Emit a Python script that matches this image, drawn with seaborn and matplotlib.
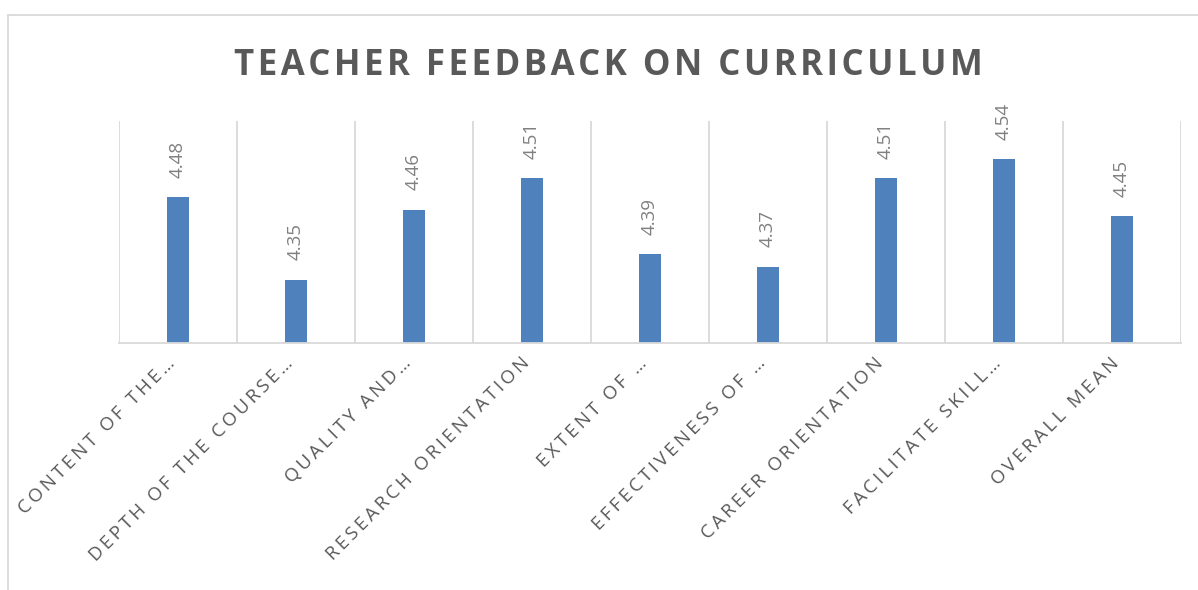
import matplotlib
matplotlib.use("Agg")
import matplotlib.pyplot as plt
import matplotlib.transforms as mtransforms
from matplotlib.lines import Line2D
import seaborn as sns
import pandas as pd

# data
categories = [
    "CONTENT OF THE…",
    "DEPTH OF THE COURSE…",
    "QUALITY AND…",
    "RESEARCH ORIENTATION",
    "EXTENT OF …",
    "EFFECTIVENESS OF …",
    "CAREER ORIENTATION",
    "FACILITATE SKILL…",
    "OVERALL MEAN",
]
scores = [4.48, 4.35, 4.46, 4.51, 4.39, 4.37, 4.51, 4.54, 4.45]
title = "TEACHER FEEDBACK ON CURRICULUM"

df = pd.DataFrame({"item": categories, "score": scores})

sns.set_theme(style="white")
plt.rcParams["font.family"] = ["Open Sans", "DejaVu Sans"]

GRID = "#d9d9d9"
TEXT = "#595959"
BAR = "#4f81bd"


def spaced(s, gap="\u200a"):
    # fake the Excel letter spacing with narrow spaces
    return gap.join(s)


fig = plt.figure(figsize=(11.98, 5.90), dpi=100)
ax = fig.add_axes([119 / 1198, 1 - 343 / 590, (1181 - 119) / 1198, (343 - 121) / 590])

sns.barplot(data=df, x="item", y="score", color=BAR, width=0.186,
            saturation=1, ax=ax, linewidth=0)

ax.set_ylim(4.25, 4.60)
ax.set_xlim(-0.5, len(categories) - 0.5)

# vertical gridlines between categories
for b in range(len(categories) + 1):
    ax.axvline(b - 0.5, color=GRID, lw=1.3, zorder=0)

for sp in ["top", "right", "left"]:
    ax.spines[sp].set_visible(False)
ax.spines["bottom"].set_color(GRID)
ax.spines["bottom"].set_linewidth(1.3)

ax.set_yticks([])
ax.set_xlabel("")
ax.set_ylabel("")
ax.set_xticks(range(len(categories)))
ax.set_xticklabels([spaced(c, "\u2009") for c in categories], rotation=45, ha="right",
                   rotation_mode="anchor", fontsize=13.5, color=TEXT)
ax.tick_params(axis="x", length=0, pad=8)
shift = mtransforms.ScaledTranslation(-0.12, 0, fig.dpi_scale_trans)
for lab in ax.get_xticklabels():
    lab.set_transform(lab.get_transform() + shift)

# value labels above each bar
for i, v in enumerate(scores):
    ax.annotate(f"{v:.2f}", (i, v), xytext=(0, 14), textcoords="offset points",
                rotation=90, ha="center", va="bottom", fontsize=13.5, color="#808080")

fig.text(0.508, 0.888, spaced(title), ha="center", va="center",
         fontsize=25, fontweight="bold", color=TEXT)

# chart frame (top and left edges visible)
fig.add_artist(Line2D([8 / 1198, 1.0], [1 - 15 / 590, 1 - 15 / 590], color=GRID, lw=1.3))
fig.add_artist(Line2D([8 / 1198, 8 / 1198], [1 - 15 / 590, 0.0], color=GRID, lw=1.3))

fig.savefig("out.png", dpi=100)
